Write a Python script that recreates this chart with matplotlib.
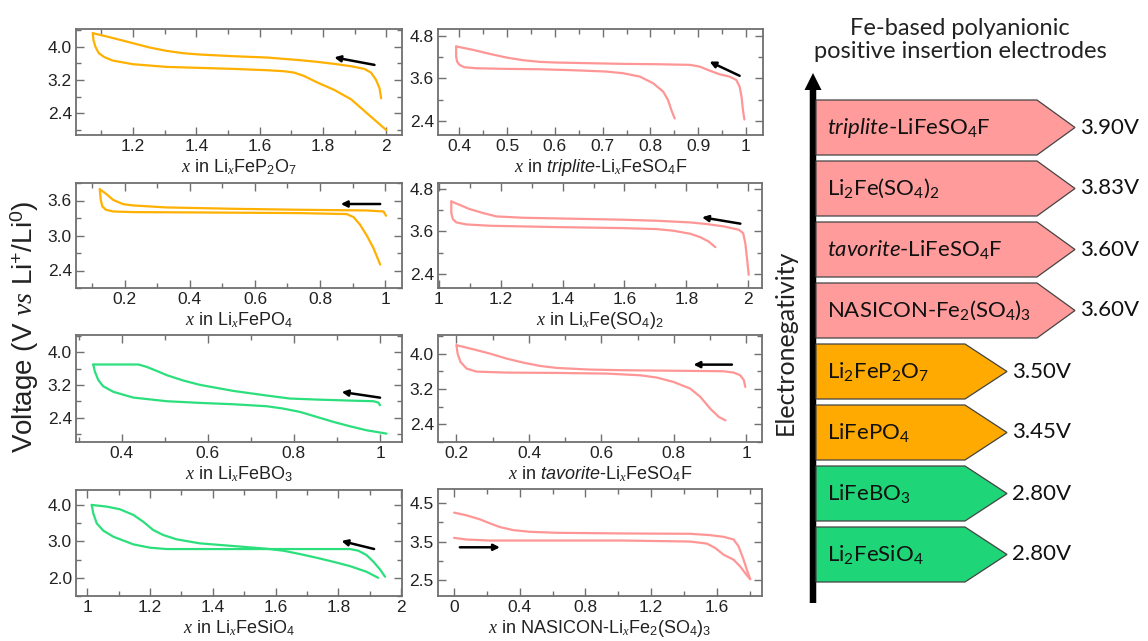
import matplotlib
matplotlib.use('Agg')
import matplotlib.pyplot as plt
from matplotlib.patches import Polygon, FancyArrow
from matplotlib.ticker import MultipleLocator, FuncFormatter

plt.rcParams['font.family'] = ['Liberation Sans', 'DejaVu Sans']
plt.rcParams['mathtext.fontset'] = 'custom'
plt.rcParams['mathtext.rm'] = 'Liberation Sans'
plt.rcParams['mathtext.it'] = 'Liberation Serif:italic'
plt.rcParams['mathtext.sf'] = 'Liberation Sans:italic'
plt.rcParams['mathtext.tt'] = 'Lato'
plt.rcParams['mathtext.bf'] = 'Lato:italic'

ORANGE = '#FFB000'
PINK = '#FF9696'
GREEN = '#2BDF7C'

# ---------------- data: voltage profiles ----------------
# Li_xFeP2O7
p2o7_ch_x = [1.984, 1.979, 1.968, 1.952, 1.931, 1.889, 1.836, 1.783, 1.73, 1.624, 1.518, 1.412, 1.359, 1.306, 1.253, 1.2, 1.126, 1.073]
p2o7_ch_y = [2.76, 3.00, 3.20, 3.376, 3.464, 3.528, 3.584, 3.632, 3.672, 3.736, 3.768, 3.808, 3.84, 3.896, 3.976, 4.08, 4.224, 4.32]
p2o7_dis_x = [1.073, 1.075, 1.081, 1.092, 1.11, 1.136, 1.2, 1.306, 1.412, 1.518, 1.624, 1.677, 1.709, 1.74, 1.783, 1.836, 1.889, 1.942, 2.0]
p2o7_dis_y = [4.32, 4.16, 4.0, 3.84, 3.744, 3.664, 3.576, 3.512, 3.488, 3.464, 3.432, 3.408, 3.376, 3.296, 3.136, 2.96, 2.736, 2.384, 2.0]
p2o7_arrow = [(1.963, 3.56), (1.836, 3.74)]

# triplite-Li_xFeSO4F
trip_ch_x = [0.997, 0.994, 0.991, 0.987, 0.98, 0.966, 0.945, 0.924, 0.903, 0.883, 0.813, 0.743, 0.673, 0.603, 0.568, 0.533, 0.498, 0.463, 0.428, 0.393]
trip_ch_y = [2.437, 2.702, 3.08, 3.364, 3.553, 3.647, 3.713, 3.817, 3.931, 3.978, 3.997, 4.006, 4.025, 4.044, 4.063, 4.11, 4.186, 4.29, 4.403, 4.498]
trip_dis_x = [0.393, 0.393, 0.395, 0.4, 0.41, 0.435, 0.498, 0.568, 0.638, 0.708, 0.743, 0.778, 0.806, 0.827, 0.837, 0.844, 0.851]
trip_dis_y = [4.498, 4.214, 4.072, 3.978, 3.912, 3.883, 3.865, 3.855, 3.827, 3.789, 3.742, 3.647, 3.458, 3.222, 2.986, 2.702, 2.466]
trip_arrow = [(0.987, 3.67), (0.924, 4.07)]

# Li_xFePO4
lfp_ch_x = [1.003, 0.995, 0.944, 0.738, 0.533, 0.328, 0.226, 0.195, 0.164, 0.144, 0.123]
lfp_ch_y = [3.338, 3.412, 3.429, 3.441, 3.458, 3.481, 3.515, 3.537, 3.611, 3.708, 3.793]
lfp_dis_x = [0.123, 0.126, 0.131, 0.142, 0.164, 0.226, 0.431, 0.738, 0.882, 0.903, 0.923, 0.944, 0.964, 0.985]
lfp_dis_y = [3.793, 3.611, 3.498, 3.441, 3.412, 3.401, 3.395, 3.384, 3.367, 3.316, 3.185, 2.997, 2.787, 2.502]
lfp_arrow = [(0.985, 3.54), (0.864, 3.54)]

# Li_xFe(SO4)2
bis_ch_x = [2.002, 1.997, 1.991, 1.984, 1.97, 1.921, 1.867, 1.813, 1.705, 1.597, 1.489, 1.381, 1.272, 1.186, 1.143, 1.099, 1.04]
bis_ch_y = [2.372, 2.797, 3.269, 3.553, 3.647, 3.742, 3.808, 3.855, 3.902, 3.931, 3.95, 3.968, 3.987, 4.025, 4.12, 4.233, 4.45]
bis_dis_x = [1.04, 1.04, 1.045, 1.056, 1.089, 1.164, 1.381, 1.597, 1.705, 1.759, 1.813, 1.845, 1.872, 1.894]
bis_dis_y = [4.45, 4.12, 3.95, 3.855, 3.798, 3.761, 3.723, 3.694, 3.666, 3.619, 3.534, 3.439, 3.316, 3.156]
bis_arrow = [(1.975, 3.82), (1.851, 4.00)]

# Li_xFeBO3
bo3_ch_x = [1.0, 0.996, 0.985, 0.93, 0.853, 0.791, 0.737, 0.659, 0.582, 0.543, 0.505, 0.481, 0.458, 0.439, 0.334]
bo3_ch_y = [2.704, 2.769, 2.802, 2.818, 2.843, 2.868, 2.942, 3.056, 3.204, 3.311, 3.442, 3.549, 3.647, 3.705, 3.705]
bo3_dis_x = [0.334, 0.338, 0.346, 0.357, 0.381, 0.427, 0.505, 0.582, 0.659, 0.737, 0.775, 0.814, 0.853, 0.892, 0.93, 0.969, 1.015]
bo3_dis_y = [3.705, 3.524, 3.319, 3.171, 3.032, 2.892, 2.802, 2.761, 2.728, 2.679, 2.622, 2.54, 2.417, 2.293, 2.187, 2.088, 2.006]
bo3_arrow = [(1.0, 2.89), (0.911, 3.03)]

# tavorite-Li_xFeSO4F
tav_ch_x = [0.997, 0.993, 0.983, 0.965, 0.937, 0.845, 0.753, 0.661, 0.569, 0.477, 0.43, 0.384, 0.338, 0.292, 0.246, 0.2]
tav_ch_y = [3.245, 3.396, 3.509, 3.57, 3.6, 3.608, 3.615, 3.623, 3.638, 3.675, 3.721, 3.796, 3.887, 4.0, 4.098, 4.189]
tav_dis_x = [0.2, 0.203, 0.211, 0.228, 0.255, 0.338, 0.477, 0.615, 0.707, 0.753, 0.799, 0.845, 0.873, 0.9, 0.924, 0.942]
tav_dis_y = [4.189, 4.0, 3.811, 3.66, 3.592, 3.57, 3.562, 3.547, 3.509, 3.457, 3.358, 3.208, 3.019, 2.755, 2.566, 2.491]
tav_arrow = [(0.960, 3.75), (0.854, 3.75)]

# Li_xFeSiO4
sio4_a_x = [1.014, 1.062, 1.104, 1.147, 1.178, 1.21, 1.242, 1.285, 1.359, 1.465, 1.572, 1.625, 1.678, 1.731, 1.784, 1.837, 1.89, 1.927]
sio4_a_y = [4.0, 3.954, 3.881, 3.725, 3.541, 3.312, 3.174, 3.055, 2.945, 2.872, 2.798, 2.743, 2.651, 2.55, 2.44, 2.321, 2.165, 2.0]
sio4_b_x = [1.014, 1.019, 1.03, 1.051, 1.083, 1.147, 1.2, 1.253, 1.465, 1.678, 1.837, 1.864, 1.89, 1.912, 1.933, 1.949]
sio4_b_y = [4.0, 3.771, 3.495, 3.294, 3.128, 2.917, 2.826, 2.789, 2.789, 2.789, 2.789, 2.743, 2.624, 2.44, 2.229, 2.028]
sio4_arrow = [(1.914, 2.79), (1.81, 3.01)]

# NASICON-Li_xFe2(SO4)3
nas_ch_x = [0.0, 0.075, 0.157, 0.218, 0.279, 0.36, 0.461, 0.624, 1.031, 1.437, 1.559, 1.641, 1.702, 1.732, 1.763, 1.783, 1.803]
nas_ch_y = [4.254, 4.184, 4.079, 3.974, 3.877, 3.798, 3.754, 3.728, 3.711, 3.702, 3.667, 3.623, 3.553, 3.377, 3.026, 2.763, 2.518]
nas_dis_x = [0.0, 0.075, 0.218, 0.624, 1.031, 1.437, 1.539, 1.59, 1.641, 1.702, 1.742, 1.773, 1.803]
nas_dis_y = [3.596, 3.553, 3.526, 3.526, 3.526, 3.5, 3.447, 3.333, 3.158, 3.026, 2.851, 2.675, 2.518]
nas_arrow = [(0.035, 3.35), (0.279, 3.35)]

# ---------------- data: electrode summary ----------------
tag_labels = [r'$\mathbf{triplite}$-LiFeSO$_{\mathtt{4}}$F',
              r'Li$_{\mathtt{2}}$Fe(SO$_{\mathtt{4}}$)$_{\mathtt{2}}$',
              r'$\mathbf{tavorite}$-LiFeSO$_{\mathtt{4}}$F',
              r'NASICON-Fe$_{\mathtt{2}}$(SO$_{\mathtt{4}}$)$_{\mathtt{3}}$',
              r'Li$_{\mathtt{2}}$FeP$_{\mathtt{2}}$O$_{\mathtt{7}}$',
              r'LiFePO$_{\mathtt{4}}$',
              r'LiFeBO$_{\mathtt{3}}$',
              r'Li$_{\mathtt{2}}$FeSiO$_{\mathtt{4}}$']
tag_voltages = [3.90, 3.83, 3.60, 3.60, 3.50, 3.45, 2.80, 2.80]
tag_groups = ['sulfate', 'sulfate', 'sulfate', 'sulfate', 'phosphate', 'phosphate', 'other', 'other']
group_colors = {'sulfate': '#FF9B9B', 'phosphate': '#FFAA00', 'other': '#1ED677'}

# ---------------- figure ----------------
W, H = 1148, 641
fig = plt.figure(figsize=(W / 100, H / 100), dpi=100)


def box(l, t, r, b):
    return [l / W, 1 - b / H, (r - l) / W, (b - t) / H]


fmt_g = FuncFormatter(lambda v, p: f'{v:g}')
fmt_1 = FuncFormatter(lambda v, p: f'{v:.1f}')

panels = [
    dict(rect=box(76, 29, 402, 135), curves=[(p2o7_ch_x, p2o7_ch_y), (p2o7_dis_x, p2o7_dis_y)], arrow=p2o7_arrow,
         color=ORANGE, xlim=(1.02, 2.05), ylim=(1.88, 4.42), xmaj=0.2, xmin=0.1, ymaj=0.8, ymin=0.4, ystart=2.4,
         xlabel=r'$\mathit{x}$ in Li$_{\mathit{x}}$FeP$_{2}$O$_{7}$'),
    dict(rect=box(438, 29, 763, 135), curves=[(trip_ch_x, trip_ch_y), (trip_dis_x, trip_dis_y)], arrow=trip_arrow,
         color=PINK, xlim=(0.355, 1.036), ylim=(2.0, 4.99), xmaj=0.1, xmin=0.05, ymaj=1.2, ymin=0.6, ystart=2.4,
         xlabel=r'$\mathit{x}$ in $\mathsf{triplite}$-Li$_{\mathit{x}}$FeSO$_{4}$F'),
    dict(rect=box(76, 183, 402, 288), curves=[(lfp_ch_x, lfp_ch_y), (lfp_dis_x, lfp_dis_y)], arrow=lfp_arrow,
         color=ORANGE, xlim=(0.05, 1.052), ylim=(2.1, 3.9), xmaj=0.2, xmin=0.1, ymaj=0.6, ymin=0.3, ystart=2.4,
         xlabel=r'$\mathit{x}$ in Li$_{\mathit{x}}$FePO$_{4}$'),
    dict(rect=box(438, 183, 762, 288), curves=[(bis_ch_x, bis_ch_y), (bis_dis_x, bis_dis_y)], arrow=bis_arrow,
         color=PINK, xlim=(0.997, 2.045), ylim=(2.0, 4.97), xmaj=0.2, xmin=0.1, ymaj=1.2, ymin=0.6, ystart=2.4,
         xlabel=r'$\mathit{x}$ in Li$_{\mathit{x}}$Fe(SO$_{4}$)$_{2}$'),
    dict(rect=box(76, 335, 402, 442), curves=[(bo3_ch_x, bo3_ch_y), (bo3_dis_x, bo3_dis_y)], arrow=bo3_arrow,
         color=GREEN, xlim=(0.294, 1.051), ylim=(1.8, 4.43), xmaj=0.2, xmin=0.1, ymaj=0.8, ymin=0.4, ystart=2.4,
         xlabel=r'$\mathit{x}$ in Li$_{\mathit{x}}$FeBO$_{3}$'),
    dict(rect=box(438, 335, 762, 442), curves=[(tav_ch_x, tav_ch_y), (tav_dis_x, tav_dis_y)], arrow=tav_arrow,
         color=PINK, xlim=(0.149, 1.043), ylim=(2.0, 4.42), xmaj=0.2, xmin=0.1, ymaj=0.8, ymin=0.4, ystart=2.4,
         xlabel=r'$\mathit{x}$ in $\mathsf{tavorite}$-Li$_{\mathit{x}}$FeSO$_{4}$F'),
    dict(rect=box(76, 490, 402, 596), curves=[(sio4_a_x, sio4_a_y), (sio4_b_x, sio4_b_y)], arrow=sio4_arrow,
         color=GREEN, xlim=(0.964, 2.003), ylim=(1.5, 4.41), xmaj=0.2, xmin=0.1, ymaj=1.0, ymin=0.5, ystart=2.0,
         xlabel=r'$\mathit{x}$ in Li$_{\mathit{x}}$FeSiO$_{4}$'),
    dict(rect=box(438, 489, 762, 596), curves=[(nas_ch_x, nas_ch_y), (nas_dis_x, nas_dis_y)], arrow=nas_arrow,
         color=PINK, xlim=(-0.098, 1.875), ylim=(2.08, 4.87), xmaj=0.4, xmin=0.2, ymaj=1.0, ymin=0.5, ystart=2.5,
         xlabel=r'$\mathit{x}$ in NASICON-Li$_{\mathit{x}}$Fe$_{2}$(SO$_{4}$)$_{3}$'),
]

SPINE = '#707070'
for p in panels:
    ax = fig.add_axes(p['rect'])
    for cx, cy in p['curves']:
        ax.plot(cx, cy, color=p['color'], lw=1.6, solid_joinstyle='round', solid_capstyle='round')
    (x0, y0), (x1, y1) = p['arrow']
    ax.annotate('', xy=(x1, y1), xytext=(x0, y0),
                arrowprops=dict(arrowstyle='-|>', color='black', lw=1.8, mutation_scale=9,
                                shrinkA=0, shrinkB=0))
    ax.set_xlim(*p['xlim'])
    ax.set_ylim(*p['ylim'])
    ax.xaxis.set_major_locator(MultipleLocator(p['xmaj']))
    ax.xaxis.set_minor_locator(MultipleLocator(p['xmin']))
    ax.set_yticks([p['ystart'] + i * p['ymaj'] for i in range(3)])
    ax.yaxis.set_minor_locator(MultipleLocator(p['ymin']))
    ax.xaxis.set_major_formatter(fmt_g)
    ax.yaxis.set_major_formatter(fmt_1)
    ax.tick_params(which='both', direction='in', top=True, right=True, color=SPINE, labelsize=12.5, pad=3,
                   labelcolor='#222222')
    ax.tick_params(which='major', length=6, width=1.0)
    ax.tick_params(which='minor', length=3.5, width=1.0)
    for s in ax.spines.values():
        s.set_color(SPINE)
        s.set_linewidth(1.3)
    ax.set_xlabel(p['xlabel'], fontsize=13, labelpad=2, color='#222222')

fig.text(25 / W, 1 - 327 / H, r'Voltage (V $\mathit{vs}$ Li$^{+}$/Li$^{0}$)', rotation=90,
         ha='center', va='center', fontsize=20, color='#222222')

# ---------------- right-hand summary ----------------
ov = fig.add_axes([0, 0, 1, 1])
ov.set_xlim(0, W)
ov.set_ylim(H, 0)
ov.axis('off')

ov.text(960, 40, 'Fe-based polyanionic\npositive insertion electrodes', ha='center', va='center',
        fontsize=17, family='Lato', linespacing=1.1, color='#222222')

ov.add_patch(FancyArrow(813, 603, 0, -530, width=6.5, head_width=17, head_length=17,
                        length_includes_head=True, color='black', lw=0))
ov.text(785, 342, 'Electronegativity', rotation=90, ha='center', va='center', fontsize=18,
        family='Lato', color='#222222')

left_x = 816
row_top0 = 100
row_pitch = 61
row_h = 55
for i, (lab, v, g) in enumerate(zip(tag_labels, tag_voltages, tag_groups)):
    top = row_top0 + i * row_pitch
    bot = top + row_h
    mid = (top + bot) / 2
    if g == 'sulfate':
        body, tip = 1037, 1075
    else:
        body, tip = 965, 1007
    ov.add_patch(Polygon([(left_x, top), (body, top), (tip, mid), (body, bot), (left_x, bot)],
                         closed=True, facecolor=group_colors[g], edgecolor='#444444', lw=0.9))
    ov.text(827, mid, lab, ha='left', va='center', fontsize=16, family='Lato', color='#111111')
    ov.text(tip + 5, mid, f'{v:.2f}V', ha='left', va='center', fontsize=16, family='Lato', color='#111111')

fig.savefig('out.png', dpi=100)
